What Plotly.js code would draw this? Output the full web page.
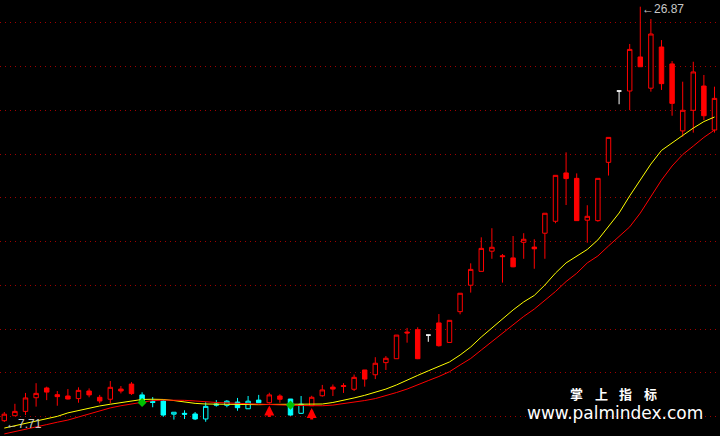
<!DOCTYPE html>
<html><head><meta charset="utf-8">
<script src="https://cdn.plot.ly/plotly-3.0.1.min.js"></script>
<style>html,body{margin:0;padding:0;background:#000;}#chart{width:720px;height:436px;}</style>
</head><body><div id="chart"></div>
<script>
// ---- data ----
const openP  = [7.77,8.00,8.20,8.83,9.28,8.97,8.91,8.79,9.14,8.85,8.76,9.23,9.46,8.96,8.66,8.68,8.07,8.11,8.08,7.85,8.54,8.48,8.63,8.32,8.72,8.60,8.91,8.77,8.11,8.46,8.92,9.32,9.39,9.22,10.11,9.89,10.45,10.63,11.86,11.97,11.72,12.28,11.38,12.80,14.02,14.66,15.59,15.38,15.28,16.00,15.78,16.42,16.97,19.20,18.95,17.02,17.00,19.69,22.98,22.98,24.55,23.11,25.01,24.23,21.14,22.09,23.21,21.18];
const highP  = [8.17,8.55,9.05,9.50,9.34,9.14,9.23,9.31,9.26,8.96,9.60,9.37,9.55,9.08,8.86,8.76,8.16,8.25,8.17,8.62,8.72,8.72,8.82,8.91,8.96,9.06,8.99,8.77,8.91,8.92,9.42,9.44,9.50,9.90,10.11,10.70,10.75,11.72,12.05,12.08,11.72,12.69,12.40,13.65,15.03,16.23,16.65,15.46,16.29,16.42,16.14,17.34,19.09,20.15,19.18,17.71,18.95,20.84,22.98,25.15,26.87,26.30,25.33,24.36,23.41,24.33,23.72,23.18];
const lowP   = [7.71,7.99,8.03,8.42,8.72,8.46,8.75,8.60,8.85,8.57,8.57,9.03,8.96,8.51,8.39,7.95,7.82,7.85,7.80,7.72,8.42,8.39,8.23,8.31,8.60,8.56,8.60,8.00,8.08,8.45,8.88,8.91,9.05,9.14,9.34,9.69,10.11,10.63,11.37,10.61,11.41,11.19,11.38,12.68,13.68,14.66,15.24,14.14,14.85,15.24,14.78,15.24,16.88,17.72,17.00,15.98,16.95,19.08,22.37,22.10,24.10,22.95,23.03,21.84,20.87,21.06,21.64,21.06];
const closeP = [8.07,8.20,8.82,9.03,9.09,8.88,8.77,9.17,8.96,8.68,9.31,9.14,9.02,8.62,8.61,8.03,8.16,8.07,7.85,8.43,8.49,8.67,8.37,8.67,8.60,8.96,8.76,8.03,8.53,8.85,9.19,9.23,9.35,9.77,9.69,10.42,10.65,11.72,11.82,10.63,11.72,11.23,12.40,13.65,14.75,15.72,15.77,15.34,14.87,16.14,15.70,17.34,19.09,18.94,17.00,17.20,18.95,20.84,22.98,24.90,24.10,25.61,23.32,22.41,22.09,23.86,21.84,22.64];
// trend colour state of each bar: r = red, c = cyan, w = flat (open = close)
const barState = ['r','r','r','r','r','r','r','r','r','r','r','r','r',
  'c','c','c','c','c','c','c','c','c','c','c','c',
  'r','r','c','c',
  'r','r','r','r','r','r','r','r','r','r','r',
  'w',
  'r','r','r','r','r','r','r','r','r','r','r','r','r','r','r','r','r',
  'w',
  'r','r','r','r','r','r','r','r','r'];
const maFast = [7.43,7.54,7.65,7.76,7.87,7.97,8.13,8.24,8.34,8.45,8.53,8.60,8.68,8.75,8.76,8.75,8.70,8.63,8.57,8.54,8.53,8.52,8.51,8.50,8.51,8.52,8.53,8.53,8.53,8.53,8.54,8.61,8.70,8.82,8.94,9.08,9.23,9.42,9.65,9.86,10.07,10.27,10.48,10.80,11.17,11.63,12.05,12.44,12.88,13.25,13.55,14.03,14.58,15.05,15.37,15.67,16.11,16.71,17.35,18.14,18.90,19.61,20.24,20.60,20.93,21.27,21.57,21.78];
const maSlow = [7.16,7.26,7.37,7.48,7.59,7.70,7.80,7.94,8.08,8.23,8.36,8.46,8.55,8.63,8.70,8.72,8.72,8.71,8.68,8.63,8.61,8.59,8.57,8.56,8.53,8.49,8.49,8.48,8.47,8.46,8.46,8.49,8.55,8.63,8.70,8.79,8.92,9.07,9.23,9.44,9.62,9.81,10.03,10.34,10.64,11.03,11.42,11.82,12.23,12.58,12.92,13.32,13.73,14.19,14.57,15.05,15.37,15.83,16.25,16.71,17.35,18.14,18.87,19.52,20.05,20.44,20.84,21.18];
const gridLevels = [26.12,24.10,22.09,20.07,18.05,16.04,14.02,12.00,9.99,7.97];
const buySignalIdx = [25, 29];
const crossIdx = [13, 27];
const crossPrice = [8.61, 8.49];
const watermarkChars = ['掌','上','指','标'];
const watermarkUrl = 'www.palmindex.com';

// ---- traces ----
const xs = openP.map((_, i) => i);
const traces = [];
traces.push({type:'scatter', mode:'lines', x:xs, y:maFast, line:{color:'#ffff00', width:1}, hoverinfo:'skip'});
traces.push({type:'scatter', mode:'lines', x:xs, y:maSlow, line:{color:'#ff0000', width:1}, hoverinfo:'skip'});
traces.push({type:'scatter', mode:'markers', x:crossIdx, y:crossPrice,
  marker:{symbol:'diamond', size:7, color:'#00c000'}, hoverinfo:'skip'});

function candles(code, color) {
  const idx = xs.filter(i => barState[i] === code);
  return {
    type:'candlestick', x:idx,
    open:idx.map(i=>openP[i]), high:idx.map(i=>highP[i]),
    low:idx.map(i=>lowP[i]), close:idx.map(i=>closeP[i]),
    increasing:{line:{color:color, width:1}, fillcolor:'#000000'},
    decreasing:{line:{color:color, width:1}, fillcolor:color},
    whiskerwidth:0, hoverinfo:'skip'
  };
}
traces.push(candles('r', '#ff0000'));
traces.push(candles('c', '#00ffff'));
traces.push(candles('w', '#ffffff'));

// ---- annotations ----
const hiVal = Math.max(...highP), hiIdx = highP.indexOf(hiVal);
const loVal = Math.min(...lowP), loIdx = lowP.indexOf(loVal);
const labelFont = {family:'Liberation Sans, Arial, sans-serif', size:12, color:'#c8c8c8'};
const ann = [
  {x:hiIdx, y:hiVal, xref:'x', yref:'y', text:'←' + hiVal.toFixed(2), showarrow:false,
   xanchor:'left', yanchor:'middle', yshift:-2, font:labelFont},
  {x:loIdx, y:loVal, xref:'x', yref:'y', text:'←' + loVal.toFixed(2), showarrow:false,
   xanchor:'left', yanchor:'middle', yshift:-2, font:labelFont}
];
buySignalIdx.forEach(i => ann.push({
  x:i, y:lowP[i], xref:'x', yref:'y', text:'', showarrow:true, ax:0, ay:15,
  arrowhead:2, arrowsize:0.67, arrowwidth:3, arrowcolor:'#ff0000', standoff:2
}));
const wmX = [576.5, 601, 625.5, 650.5];
watermarkChars.forEach((ch, k) => ann.push({
  x:wmX[k]/720, y:1-393.5/436, xref:'paper', yref:'paper', text:ch, showarrow:false,
  xanchor:'center', yanchor:'middle', borderpad:0,
  font:{family:'Noto Sans CJK SC', size:13, color:'#ffffff', weight:'bold'}
}));
ann.push({x:615/720, y:1-413/436, xref:'paper', yref:'paper', text:watermarkUrl, showarrow:false,
  xanchor:'center', yanchor:'middle', borderpad:0,
  font:{family:'DejaVu Sans', size:17, color:'#ffffff'}});

const layout = {
  width:720, height:436, margin:{l:0, r:0, t:0, b:0, pad:0},
  paper_bgcolor:'#000000', plot_bgcolor:'#000000',
  showlegend:false, boxgap:0.4,
  xaxis:{range:[-0.406, 67.52], showgrid:false, zeroline:false, showticklabels:false,
         ticks:'', showline:false, rangeslider:{visible:false}},
  yaxis:{range:[7.064, 27.179], tickvals:gridLevels, showticklabels:false, ticks:'',
         showgrid:true, gridcolor:'#a00000', griddash:'1px,4px', gridwidth:1,
         zeroline:false, showline:false},
  annotations:ann
};
Plotly.newPlot('chart', traces, layout, {displayModeBar:false, staticPlot:true});
</script>
</body></html>
